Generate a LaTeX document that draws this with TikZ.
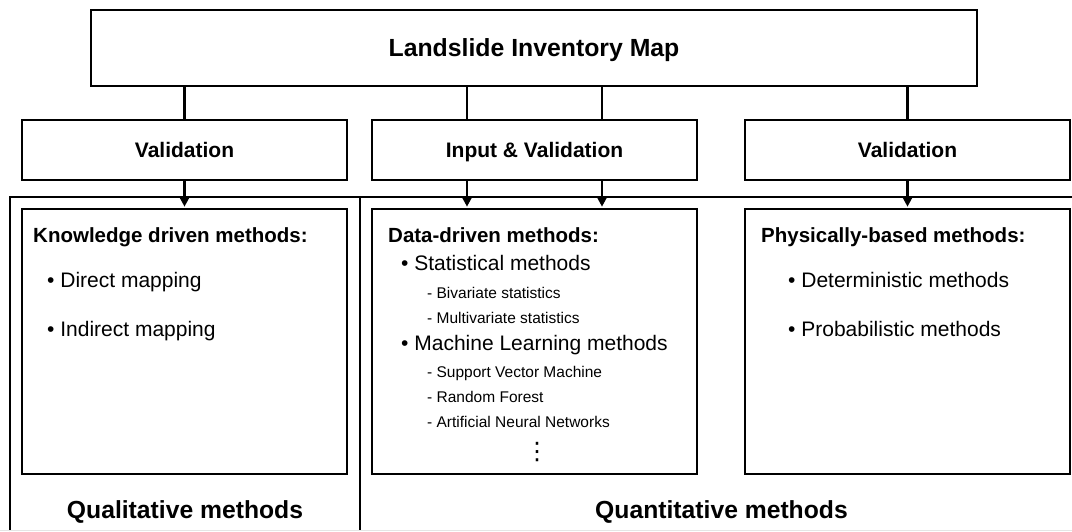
\documentclass[tikz,border=0pt]{standalone}
\usepackage{fontspec}
\setmainfont{Liberation Sans}
\newfontfamily\symfont{DejaVu Sans}
\usetikzlibrary{arrows.meta}

\newcommand{\fs}[1]{\fontsize{#1}{#1}\selectfont}

\tikzset{
  box/.style={draw=black, line width=2.6pt, fill=white, inner sep=0pt},
  frame/.style={draw=black, line width=2pt},
  link/.style={draw=black, line width=2.4pt},
  arr/.style={link, -{Triangle[length=10pt,width=10pt]}, shorten >=1pt},
  titletxt/.style={font=\fs{24.8}\bfseries, text height=17.8pt, text depth=0pt},
  valtxt/.style={font=\fs{21}\bfseries, text height=15pt, text depth=0pt},
  head/.style={anchor=base west, inner sep=0pt, font=\fs{20.5}\bfseries},
  item/.style={anchor=base west, inner sep=0pt, font=\fs{21}},
  sub/.style={anchor=base west, inner sep=0pt, font=\fs{15.5}},
  group/.style={anchor=base, inner sep=0pt, font=\fs{24.7}\bfseries},
}

\begin{document}
\begin{tikzpicture}[x=1pt, y=-1pt]
\useasboundingbox[fill=white] (0,0) rectangle (1072,531);

% outer frames of the two method groups
\draw[frame] (10,531) -- (10,197) -- (1072,197);
\draw[frame] (360,197) -- (360,531);
\draw[gray!20, line width=1pt] (0,530) -- (1072,530);

% top box
\node[box, titletxt, minimum width=886pt, minimum height=76pt] (map) at (534,48) {Landslide Inventory Map};

% second row
\node[box, valtxt, minimum width=325pt, minimum height=60pt] (val1) at (184.5,150) {Validation};
\node[box, valtxt, minimum width=325pt, minimum height=60pt] (val2) at (534.5,150) {Input \& Validation};
\node[box, valtxt, minimum width=325pt, minimum height=60pt] (val3) at (907.5,150) {Validation};

% method boxes
\node[box, minimum width=325pt, minimum height=265pt] (know) at (184.5,341.5) {};
\node[box, minimum width=325pt, minimum height=265pt] (data) at (534.5,341.5) {};
\node[box, minimum width=325pt, minimum height=265pt] (phys) at (907.5,341.5) {};

% connectors
\coordinate (m1) at (467,0);
\coordinate (m2) at (602,0);
\draw[link] (map.south -| val1.north) -- (val1.north);
\draw[link] (map.south -| m1) -- (val2.north -| m1);
\draw[link] (map.south -| m2) -- (val2.north -| m2);
\draw[link] (map.south -| val3.north) -- (val3.north);

\draw[arr] (val1.south) -- (know.north);
\draw[arr] (val2.south -| m1) -- (data.north -| m1);
\draw[arr] (val2.south -| m2) -- (data.north -| m2);
\draw[arr] (val3.south) -- (phys.north);

% knowledge driven
\node[head] (k0) at (33,242.5) {Knowledge driven methods:};
\node[item] (k1) at (47,287) {\textbullet\ Direct mapping};
\node[item] (k2) at (47,336) {\textbullet\ Indirect mapping};

% data driven
\node[head] (d0) at (388,242.5) {Data-driven methods:};
\node[item] (d1) at (401,270.5) {\textbullet\ Statistical methods};
\node[sub] (d2) at (427,298) {- Bivariate statistics};
\node[sub] (d3) at (427,323) {- Multivariate statistics};
\node[item] (d4) at (401,350) {\textbullet\ Machine Learning methods};
\node[sub] (d5) at (427,377.5) {- Support Vector Machine};
\node[sub] (d6) at (427,402.5) {- Random Forest};
\node[sub] (d7) at (427,427.5) {- Artificial Neural Networks};
\node[anchor=base, inner sep=0pt, font=\fs{24}\symfont] (d8) at (537,459) {⋮};

% physically based
\node[head] (p0) at (761,242.5) {Physically-based methods:};
\node[item] (p1) at (788,287) {\textbullet\ Deterministic methods};
\node[item] (p2) at (788,336) {\textbullet\ Probabilistic methods};

% group labels
\node[group] (qual) at (185,518.5) {Qualitative methods};
\node[group] (quan) at (721.5,518.5) {Quantitative methods};
\end{tikzpicture}
\end{document}
